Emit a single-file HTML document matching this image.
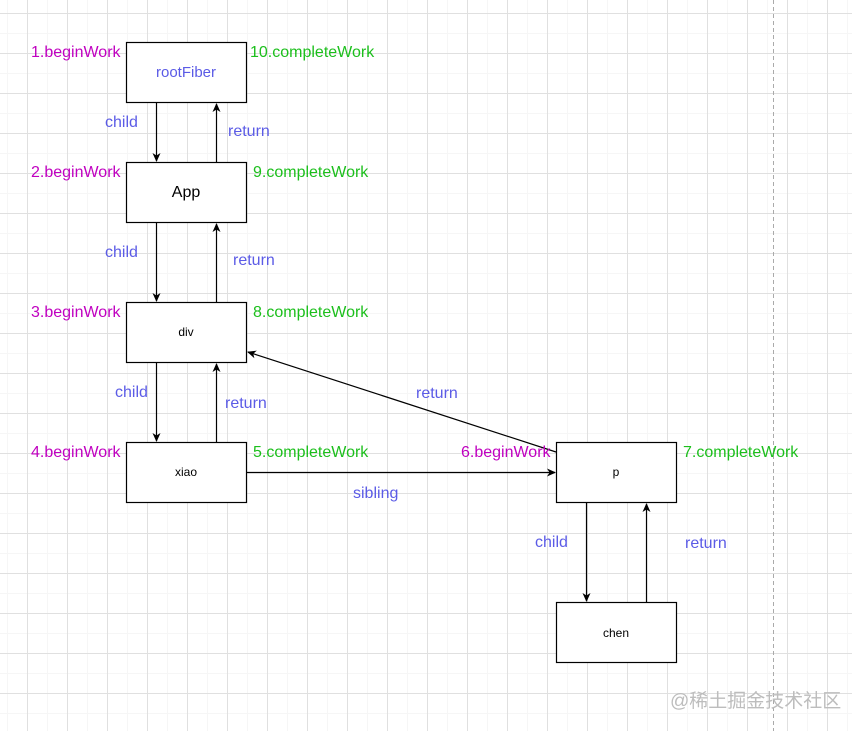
<!DOCTYPE html>
<html><head><meta charset="utf-8"><style>
body{margin:0;width:852px;height:731px;overflow:hidden;background:#fff;}
svg{display:block}
text{font-family:"Liberation Sans",Arial,sans-serif;}
</style></head><body>
<svg width="852" height="731" viewBox="0 0 852 731" xmlns="http://www.w3.org/2000/svg">
<defs>
<pattern id="minor" x="7" y="-7" width="20" height="20" patternUnits="userSpaceOnUse"><path d="M0 0.5H20M0.5 0V20" stroke="#f6f6f6" stroke-width="1" fill="none"/></pattern>
<pattern id="major" x="27" y="13" width="40" height="40" patternUnits="userSpaceOnUse"><path d="M0 0.5H40M0.5 0V40" stroke="#e0e0e0" stroke-width="1" fill="none"/></pattern>
<marker id="a" markerWidth="10" markerHeight="10" refX="8" refY="5" orient="auto" markerUnits="userSpaceOnUse"><path d="M0,1 L9,5 L0,9 L2.5,5 Z" fill="#000"/></marker>
</defs>
<rect width="852" height="731" fill="url(#minor)"/>
<rect width="852" height="731" fill="url(#major)"/>
<line x1="773.5" y1="0" x2="773.5" y2="731" stroke="#aaa" stroke-dasharray="4,3"/>
<g fill="#fff" stroke="#000" stroke-width="1.2">
<rect x="126.5" y="42.5" width="120" height="60"/>
<rect x="126.5" y="162.5" width="120" height="60"/>
<rect x="126.5" y="302.5" width="120" height="60"/>
<rect x="126.5" y="442.5" width="120" height="60"/>
<rect x="556.5" y="442.5" width="120" height="60"/>
<rect x="556.5" y="602.5" width="120" height="60"/>
</g>
<g stroke="#000" stroke-width="1.2" marker-end="url(#a)">
<line x1="156.5" y1="103" x2="156.5" y2="161"/>
<line x1="216.5" y1="162" x2="216.5" y2="104"/>
<line x1="156.5" y1="223" x2="156.5" y2="301"/>
<line x1="216.5" y1="302" x2="216.5" y2="224"/>
<line x1="156.5" y1="363" x2="156.5" y2="441"/>
<line x1="216.5" y1="442" x2="216.5" y2="364"/>
<line x1="247" y1="472.5" x2="555" y2="472.5"/>
<line x1="556" y1="452" x2="248" y2="352"/>
<line x1="586.5" y1="503" x2="586.5" y2="601"/>
<line x1="646.5" y1="602" x2="646.5" y2="504"/>
</g>
<g text-anchor="middle">
<text x="186" y="77" fill="#5b5be6" font-size="15">rootFiber</text>
<text x="186" y="197" fill="#000" font-size="16">App</text>
<text x="186" y="336" fill="#000" font-size="12">div</text>
<text x="186" y="476" fill="#000" font-size="12">xiao</text>
<text x="616" y="476" fill="#000" font-size="12">p</text>
<text x="616" y="637" fill="#000" font-size="12">chen</text>
</g>
<g font-size="16" fill="#c000c0">
<text x="31" y="57">1.beginWork</text>
<text x="31" y="177">2.beginWork</text>
<text x="31" y="317">3.beginWork</text>
<text x="31" y="457">4.beginWork</text>
<text x="461" y="457">6.beginWork</text>
</g>
<g font-size="16" fill="#1cbf1c">
<text x="250" y="57">10.completeWork</text>
<text x="253" y="177">9.completeWork</text>
<text x="253" y="317">8.completeWork</text>
<text x="253" y="457">5.completeWork</text>
<text x="683" y="457">7.completeWork</text>
</g>
<g font-size="16" fill="#5b5be6">
<text x="105" y="127">child</text>
<text x="228" y="136">return</text>
<text x="105" y="257">child</text>
<text x="233" y="265">return</text>
<text x="115" y="397">child</text>
<text x="225" y="408">return</text>
<text x="416" y="398">return</text>
<text x="353" y="498">sibling</text>
<text x="535" y="547">child</text>
<text x="685" y="548">return</text>
</g>
<text x="670" y="707" font-size="19" fill="#bdbdbd" style='font-family:"Liberation Sans","Noto Sans CJK SC",sans-serif'>@稀土掘金技术社区</text>
</svg>
</body></html>
